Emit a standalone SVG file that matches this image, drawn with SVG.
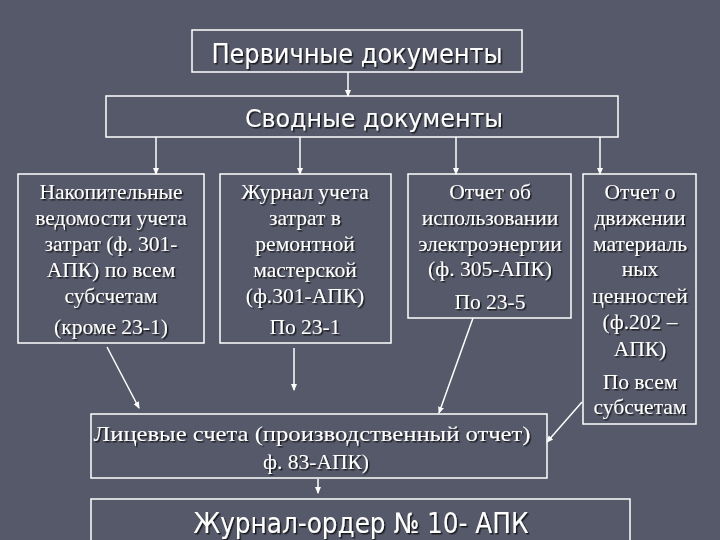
<svg xmlns="http://www.w3.org/2000/svg" width="720" height="540" viewBox="0 0 720 540">
<defs>
<style>
.box{fill:none;stroke:#ffffff;stroke-width:1.5}
.sans{font-family:"DejaVu Sans","Liberation Sans",sans-serif;fill:#ffffff;text-anchor:middle}
.serif{font-family:"Liberation Serif","Times New Roman",serif;fill:#ffffff;text-anchor:middle;font-size:21.5px}
.conn{stroke:#ffffff;stroke-width:1.5;fill:none;marker-end:url(#ah)}
</style>
<marker id="ah" markerWidth="8" markerHeight="8" refX="6" refY="4" orient="auto" markerUnits="userSpaceOnUse">
<path d="M0,1 L7,4 L0,7 Z" fill="#ffffff"/>
</marker>
<filter id="sh" x="-5%" y="-20%" width="110%" height="140%">
<feDropShadow dx="1.5" dy="1.5" stdDeviation="0.6" flood-color="#000000" flood-opacity="0.7"/>
</filter>
</defs>
<rect x="0" y="0" width="720" height="540" fill="#565969"/>
<g id="connectors">
<line class="conn" x1="348" y1="72" x2="348" y2="96"/>
<line class="conn" x1="156" y1="137" x2="156" y2="174"/>
<line class="conn" x1="300" y1="137" x2="300" y2="174"/>
<line class="conn" x1="456" y1="137" x2="456" y2="174"/>
<line class="conn" x1="600" y1="137" x2="600" y2="174"/>
<line class="conn" x1="107" y1="347" x2="139" y2="408"/>
<line class="conn" x1="294" y1="348" x2="294" y2="390"/>
<line class="conn" x1="473" y1="318" x2="439" y2="413"/>
<line class="conn" x1="582" y1="402" x2="547" y2="442"/>
<line class="conn" x1="318" y1="479" x2="318" y2="493"/>
</g>
<g id="primary">
<rect class="box" x="192" y="30" width="330" height="42"/>
<text class="sans" x="357" y="63" font-size="26" textLength="291" lengthAdjust="spacingAndGlyphs" filter="url(#sh)">Первичные документы</text>
</g>
<g id="summary">
<rect class="box" x="106" y="96" width="512" height="41"/>
<text class="sans" x="374" y="127" font-size="25" textLength="258" lengthAdjust="spacingAndGlyphs" filter="url(#sh)">Сводные документы</text>
</g>
<g id="node1">
<rect class="box" x="18" y="174" width="186" height="169"/>
<g class="serif" filter="url(#sh)">
<text x="111" y="199">Накопительные</text>
<text x="111" y="225">ведомости учета</text>
<text x="111" y="251">затрат (ф. 301-</text>
<text x="111" y="277">АПК) по всем</text>
<text x="111" y="303">субсчетам</text>
<text x="111" y="334">(кроме 23-1)</text>
</g>
</g>
<g id="node2">
<rect class="box" x="220" y="174" width="171" height="169"/>
<g class="serif" filter="url(#sh)">
<text x="305" y="199">Журнал учета</text>
<text x="305" y="225">затрат в</text>
<text x="305" y="251">ремонтной</text>
<text x="305" y="277">мастерской</text>
<text x="305" y="303">(ф.301-АПК)</text>
<text x="305" y="334">По 23-1</text>
</g>
</g>
<g id="node3">
<rect class="box" x="408" y="174" width="163" height="144"/>
<g class="serif" filter="url(#sh)">
<text x="490" y="199">Отчет об</text>
<text x="490" y="225">использовании</text>
<text x="490" y="251">электроэнергии</text>
<text x="490" y="276">(ф. 305-АПК)</text>
<text x="490" y="309">По 23-5</text>
</g>
</g>
<g id="node4">
<rect class="box" x="583" y="174" width="113" height="250"/>
<g class="serif" filter="url(#sh)">
<text x="640" y="199">Отчет о</text>
<text x="640" y="225">движении</text>
<text x="640" y="251">материаль</text>
<text x="640" y="276">ных</text>
<text x="640" y="303">ценностей</text>
<text x="640" y="329">(ф.202 –</text>
<text x="640" y="356">АПК)</text>
<text x="640" y="389">По всем</text>
<text x="640" y="414">субсчетам</text>
</g>
</g>
<g id="accounts">
<rect class="box" x="91" y="414" width="456" height="64"/>
<g class="serif" filter="url(#sh)" font-size="21.5">
<text x="312" y="441" textLength="437" lengthAdjust="spacingAndGlyphs">Лицевые счета (производственный отчет)</text>
<text x="316" y="469">ф. 83-АПК)</text>
</g>
</g>
<g id="journal">
<rect class="box" x="91" y="499" width="539" height="60"/>
<text class="sans" x="361" y="533" font-size="28" textLength="335" lengthAdjust="spacingAndGlyphs" filter="url(#sh)">Журнал-ордер № 10- АПК</text>
</g>
</svg>
